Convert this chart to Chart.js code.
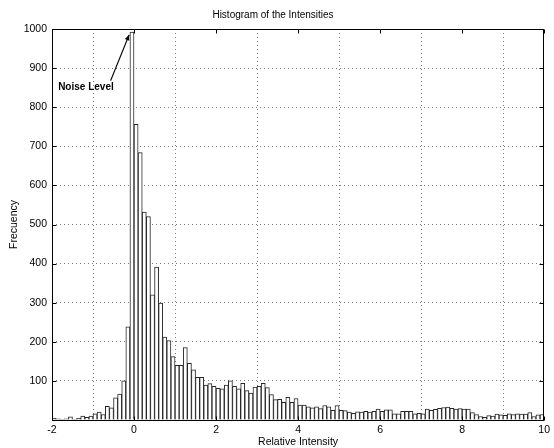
<!DOCTYPE html>
<html>
<head>
<meta charset="utf-8">
<script src="https://cdn.jsdelivr.net/npm/chart.js@4/dist/chart.umd.min.js"></script>
<style>
  html, body { margin: 0; padding: 0; background: #fff; }
  #wrap { width: 554px; height: 448px; position: relative; }
</style>
</head>
<body>
<div id="wrap"><canvas id="histChart"></canvas></div>
<script>
// histogram bins: 0.1 wide, first bin starts at -2
const binStart = -2;
const binWidth = 0.1;

// counts per bin (-2.0 ... 9.9)
const countsNeg = [4, 3, 2, 3, 8, 2, 4, 10, 7, 10, 16, 20, 14, 35, 31, 57, 66, 100, 238, 992];
const counts0to2 = [756, 684, 532, 520, 320, 391, 299, 212, 203, 162, 140, 140, 185, 145, 128, 109, 109, 89, 93, 86];
const counts2to4 = [81, 80, 89, 100, 86, 80, 94, 75, 69, 84, 86, 94, 83, 65, 52, 53, 45, 58, 45, 55];
const counts4to6 = [38, 38, 34, 31, 34, 29, 37, 34, 25, 37, 25, 24, 20, 17, 21, 20, 22, 20, 22, 28];
const counts6to10 = [22, 26, 26, 16, 16, 22, 22, 22, 16, 17, 16, 28, 25, 27, 30, 32, 33, 30, 28, 29,
                     28, 28, 19, 14, 9, 7, 11, 10, 15, 13, 12, 16, 14, 16, 15, 15, 19, 9, 13, 14];

const xTicks = [-2, 0, 2, 4, 6, 8, 10];
const yTicks = [100, 200, 300, 400, 500, 600, 700, 800, 900, 1000];

const counts = [...countsNeg, ...counts0to2, ...counts2to4, ...counts4to6, ...counts6to10];
const bins = counts.map((c, i) => ({ x: binStart + binWidth * (i + 0.5), y: c }));

const FONT = 'Liberation Sans, Arial, sans-serif';

// frame, inward tick marks and the "Noise Level" note
const framePlugin = {
    id: 'frame',
    afterDraw(chart) {
        const { ctx, chartArea: a, scales } = chart;
        const xs = scales.x, ys = scales.y;
        const L = Math.round(a.left) + 0.5, R = Math.round(a.right) - 0.5;
        const T = Math.round(a.top) + 0.5, B = Math.round(a.bottom) + 0.5;
        ctx.save();
        ctx.strokeStyle = '#000';
        ctx.lineWidth = 1;
        ctx.strokeRect(L, T, R - L, B - T);

        ctx.beginPath();
        xTicks.forEach(v => {
            const px = Math.round(xs.getPixelForValue(v)) + 0.5;
            ctx.moveTo(px, B); ctx.lineTo(px, B - 4);
            ctx.moveTo(px, T); ctx.lineTo(px, T + 4);
        });
        yTicks.forEach(v => {
            const py = Math.round(ys.getPixelForValue(v)) + 0.5;
            ctx.moveTo(L, py); ctx.lineTo(L + 4, py);
            ctx.moveTo(R, py); ctx.lineTo(R - 4, py);
        });
        ctx.stroke();

        // annotation
        ctx.fillStyle = '#000';
        ctx.font = 'bold 10px ' + FONT;
        ctx.textBaseline = 'middle';
        ctx.fillText('Noise Level', xs.getPixelForValue(-1.85), ys.getPixelForValue(852));

        const x0 = xs.getPixelForValue(-0.57), y0 = ys.getPixelForValue(868);
        const x1 = xs.getPixelForValue(-0.12), y1 = ys.getPixelForValue(985);
        ctx.lineWidth = 1.2;
        ctx.beginPath();
        ctx.moveTo(x0, y0); ctx.lineTo(x1, y1);
        ctx.stroke();
        const ang = Math.atan2(y1 - y0, x1 - x0);
        ctx.beginPath();
        ctx.moveTo(x1, y1);
        ctx.lineTo(x1 - 6 * Math.cos(ang - 0.4), y1 - 6 * Math.sin(ang - 0.4));
        ctx.lineTo(x1 - 6 * Math.cos(ang + 0.4), y1 - 6 * Math.sin(ang + 0.4));
        ctx.closePath();
        ctx.fill();
        ctx.restore();
    }
};

new Chart(document.getElementById('histChart'), {
    type: 'bar',
    data: {
        datasets: [{
            data: bins,
            backgroundColor: '#ffffff',
            borderColor: '#262626',
            borderWidth: 1,
            barPercentage: 1,
            categoryPercentage: 1,
            grouped: false
        }]
    },
    options: {
        responsive: true,
        maintainAspectRatio: false,
        animation: false,
        layout: { padding: { left: 0, right: 8, top: 0, bottom: 0 } },
        plugins: {
            legend: { display: false },
            tooltip: { enabled: false },
            title: {
                display: true,
                text: 'Histogram of the Intensities',
                color: '#000',
                font: { family: FONT, size: 10, weight: 'normal' },
                padding: { top: 9, bottom: 8 }
            }
        },
        scales: {
            x: {
                type: 'linear',
                min: -2,
                max: 10,
                offset: false,
                afterFit: s => { s.height = 28; },
                afterBuildTicks: s => { s.ticks = xTicks.map(v => ({ value: v })); },
                grid: { color: '#7a7a7a', lineWidth: 1, drawTicks: false },
                border: { display: false, dash: [1, 3] },
                ticks: { color: '#000', font: { family: FONT, size: 10.5 }, padding: 4, maxRotation: 0 },
                title: {
                    display: true,
                    text: 'Relative Intensity',
                    color: '#000',
                    font: { family: FONT, size: 10.5 },
                    padding: { top: 0, bottom: 0 }
                }
            },
            y: {
                min: 0,
                max: 1000,
                afterFit: s => { s.width = 52; },
                afterBuildTicks: s => { s.ticks = [0, ...yTicks].map(v => ({ value: v })); },
                grid: { color: '#7a7a7a', lineWidth: 1, drawTicks: false },
                border: { display: false, dash: [1, 3] },
                ticks: {
                    color: '#000',
                    font: { family: FONT, size: 10.5 },
                    padding: 5,
                    callback: v => v === 0 ? '' : v
                },
                title: {
                    display: true,
                    text: 'Frecuency',
                    color: '#000',
                    font: { family: FONT, size: 10.5 },
                    padding: { top: 8, bottom: 0 }
                }
            }
        }
    },
    plugins: [framePlugin]
});
</script>
</body>
</html>
